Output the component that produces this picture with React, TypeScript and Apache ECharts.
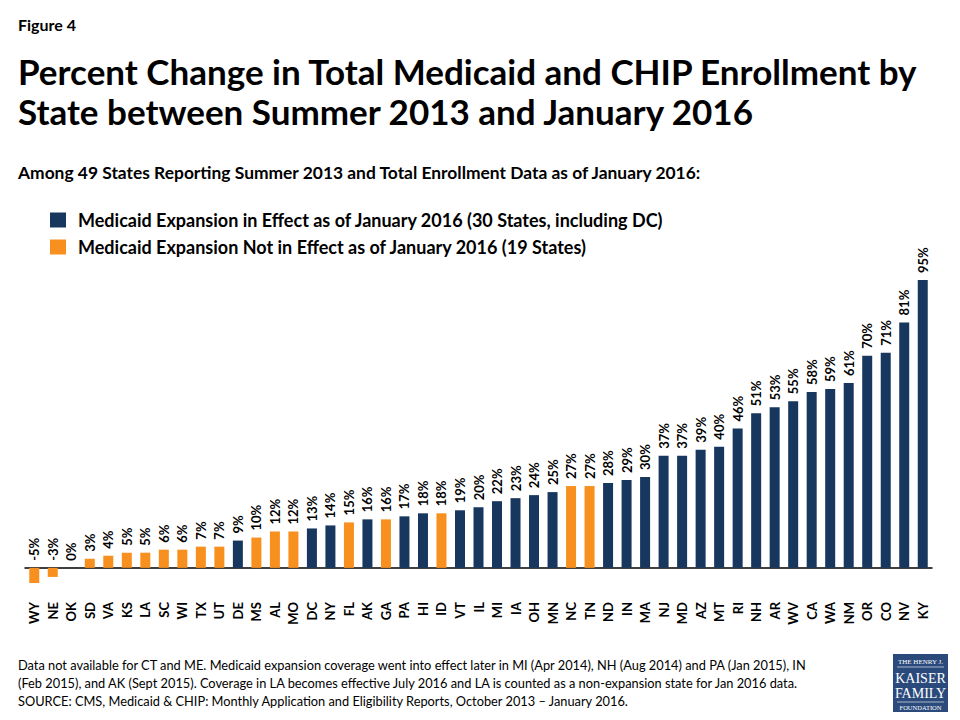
import React, { useEffect, useRef } from "react";
import * as echarts from "echarts";

const states = [
  "WY", "NE", "OK", "SD", "VA", "KS", "LA", "SC", "WI", "TX", "UT", "DE", "MS", "AL", "MO", "DC", "NY",
  "FL", "AK", "GA", "PA", "HI", "ID", "VT", "IL", "MI", "IA", "OH", "MN", "NC", "TN", "ND", "IN", "MA",
  "NJ", "MD", "AZ", "MT", "RI", "NH", "AR", "WV", "CA", "WA", "NM", "OR", "CO", "NV", "KY",
];
const changes = [
  -5, -3, 0, 3, 4, 5, 5, 6, 6, 7, 7, 9, 10, 12, 12, 13, 14,
  15, 16, 16, 17, 18, 18, 19, 20, 22, 23, 24, 25, 27, 27, 28, 29, 30,
  37, 37, 39, 40, 46, 51, 53, 55, 58, 59, 61, 70, 71, 81, 95,
];
// 1 = Medicaid expansion in effect as of January 2016
const expanded = [
  0, 0, 0, 0, 0, 0, 0, 0, 0, 0, 0, 1, 0, 0, 0, 1, 1,
  0, 1, 0, 1, 1, 0, 1, 1, 1, 1, 1, 1, 0, 0, 1, 1, 1,
  1, 1, 1, 1, 1, 1, 1, 1, 1, 1, 1, 1, 1, 1, 1,
];
const seriesNames = [
  "Medicaid Expansion in Effect as of January 2016 (30 States, including DC)",
  "Medicaid Expansion Not in Effect as of January 2016 (19 States)",
];
const footnotes = [
  "Data not available for CT and ME. Medicaid expansion coverage went into effect later in MI (Apr 2014), NH (Aug 2014) and PA (Jan 2015), IN",
  "(Feb 2015), and AK (Sept 2015). Coverage in LA becomes effective July 2016 and LA is counted as a non-expansion state for Jan 2016 data.",
  "SOURCE: CMS, Medicaid & CHIP: Monthly Application and Eligibility Reports, October 2013 \u2013 January 2016.",
];

const NAVY = "#17375E";
const ORANGE = "#F7901E";
const FONT = "Lato, 'Open Sans', sans-serif";

export default function App() {
  const ref = useRef<HTMLDivElement>(null);

  useEffect(() => {
    document.body.style.margin = "0";
    if (!ref.current) return;
    const chart = echarts.init(ref.current, undefined, { renderer: "svg" });

    const expData = changes.map((v, i) => (expanded[i] ? v : null));
    const nonData = changes.map((v, i) => (expanded[i] ? null : v));

    const label = {
      show: true,
      position: "top",
      distance: 7,
      rotate: 90,
      align: "left",
      verticalAlign: "middle",
      formatter: "{c}%",
      color: "#000",
      fontFamily: FONT,
      fontWeight: "bold",
      fontSize: 13,
    };

    const text = (x: number, y: number, t: string, font: string, extra: any = {}) => ({
      type: "text",
      style: { x, y, text: t, font, fill: "#000", verticalAlign: "middle", ...extra },
    });

    chart.setOption({
      animation: false,
      textStyle: { fontFamily: FONT },
      grid: { left: 25, right: 28, top: 280, height: 303 },
      legend: {
        data: seriesNames,
        orient: "vertical",
        left: 45,
        top: 204,
        itemWidth: 16,
        itemHeight: 15,
        itemGap: 5,
        icon: "rect",
        selectedMode: false,
        textStyle: {
          fontFamily: FONT,
          fontWeight: "bold",
          fontSize: 18,
          lineHeight: 22,
          color: "#000",
          padding: [0, 0, 0, 7],
        },
      },
      xAxis: {
        type: "category",
        data: states,
        axisLine: { onZero: true, lineStyle: { color: "#000", width: 1.5 } },
        axisTick: { show: false },
        axisLabel: {
          interval: 0,
          rotate: 90,
          margin: 19,
          color: "#000",
          fontFamily: FONT,
          fontWeight: "bold",
          fontSize: 13,
        },
      },
      yAxis: { type: "value", min: -5, max: 95, show: false, splitLine: { show: false } },
      series: [
        {
          name: seriesNames[0],
          type: "bar",
          stack: "all",
          barWidth: 10,
          data: expData,
          itemStyle: { color: NAVY },
          label,
        },
        {
          name: seriesNames[1],
          type: "bar",
          stack: "all",
          barWidth: 10,
          data: nonData,
          itemStyle: { color: ORANGE },
          label,
        },
      ],
      graphic: [
        text(18, 24, "Figure 4", `bold 16px ${FONT}`),
        text(18, 71, "Percent Change in Total Medicaid and CHIP Enrollment by", `bold 35px ${FONT}`),
        text(18, 111, "State between Summer 2013 and January 2016", `bold 35px ${FONT}`),
        text(18, 172, "Among 49 States Reporting Summer 2013 and Total Enrollment Data as of January 2016:", `bold 17.4px ${FONT}`),
        text(18, 665, footnotes[0], `12.8px ${FONT}`),
        text(18, 683, footnotes[1], `12.8px ${FONT}`),
        text(18, 701, footnotes[2], `12.8px ${FONT}`),
        {
          type: "group",
          children: [
            { type: "rect", shape: { x: 893, y: 654, width: 55, height: 58 }, style: { fill: "#2A4A7C" } },
            text(920.5, 662, "THE HENRY J.", `7px 'Liberation Serif', serif`, { fill: "#fff", align: "center" }),
            { type: "line", shape: { x1: 897, y1: 667, x2: 944, y2: 667 }, style: { stroke: "#fff", lineWidth: 0.6 } },
            text(920.5, 678, "KAISER", `14px 'Liberation Serif', serif`, { fill: "#fff", align: "center" }),
            text(920.5, 693, "FAMILY", `14px 'Liberation Serif', serif`, { fill: "#fff", align: "center" }),
            { type: "line", shape: { x1: 897, y1: 702, x2: 944, y2: 702 }, style: { stroke: "#fff", lineWidth: 0.6 } },
            text(920.5, 707, "FOUNDATION", `6.5px 'Liberation Serif', serif`, { fill: "#fff", align: "center" }),
          ],
        },
      ],
    });

    return () => chart.dispose();
  }, []);

  return <div ref={ref} style={{ width: 960, height: 720 }} />;
}
